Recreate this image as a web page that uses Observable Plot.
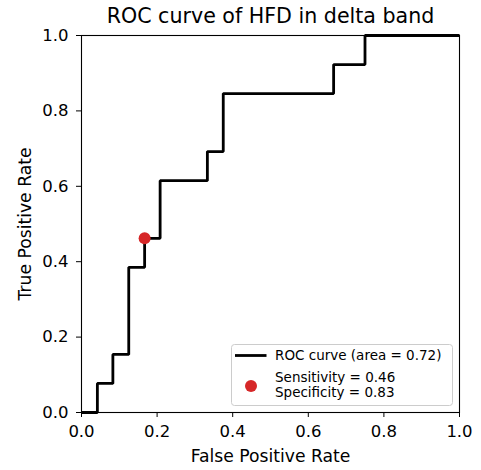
<!DOCTYPE html>
<html>
<head>
<meta charset="utf-8">
<script src="https://cdn.jsdelivr.net/npm/d3@7"></script>
<script src="https://cdn.jsdelivr.net/npm/@observablehq/plot@0.6"></script>
<style>
  html, body { margin: 0; padding: 0; background: white; }
  svg { display: block; }
</style>
</head>
<body>
<div id="chart"></div>
<script>
const fpr = [0, 0.042, 0.042, 0.083, 0.083, 0.125, 0.125, 0.167, 0.167, 0.208, 0.208, 0.333, 0.333, 0.375, 0.375, 0.667, 0.667, 0.75, 0.75, 1];
const tpr = [0, 0, 0.077, 0.077, 0.154, 0.154, 0.385, 0.385, 0.462, 0.462, 0.615, 0.615, 0.692, 0.692, 0.846, 0.846, 0.923, 0.923, 1, 1];
const opPoint = [{x: 0.167, y: 0.462}];
const ticks = [0, 0.2, 0.4, 0.6, 0.8, 1.0];
const title = "ROC curve of HFD in delta band";
const xLabel = "False Positive Rate";
const yLabel = "True Positive Rate";
const rocLabel = "ROC curve (area = 0.72)";
const pointLabels = ["Sensitivity = 0.46", "Specificity = 0.83"];

const roc = fpr.map((f, i) => ({x: f, y: tpr[i]}));
const font = "DejaVu Sans, sans-serif";

const W = 481, H = 470;
const mL = 81, mR = 22, mT = 35, mB = 58;

const chart = Plot.plot({
  width: W,
  height: H,
  marginLeft: mL,
  marginRight: mR,
  marginTop: mT,
  marginBottom: mB,
  style: {fontFamily: font, fontSize: "16.5px", color: "black", background: "white"},
  x: {domain: [0, 1]},
  y: {domain: [0, 1]},
  marks: [
    Plot.axisX({ticks, tickFormat: d3.format(".1f"), tickSize: 5, tickPadding: 8, label: null, fontSize: 16.5}),
    Plot.axisY({ticks, tickFormat: d3.format(".1f"), tickSize: 5, tickPadding: 8, label: null, fontSize: 16.5}),
    Plot.line(roc, {x: "x", y: "y", stroke: "black", strokeWidth: 2.8, strokeLinejoin: "miter", strokeLinecap: "butt"}),
    Plot.dot(opPoint, {x: "x", y: "y", r: 6, fill: "#d62728", stroke: null}),
    Plot.frame({stroke: "black", strokeWidth: 1.1}),
    Plot.text([title], {frameAnchor: "top", dy: -19, text: d => d, fontSize: 20.6, lineAnchor: "middle", textAnchor: "middle"}),
    Plot.text([xLabel], {frameAnchor: "bottom", dy: 44, text: d => d, fontSize: 17.2, lineAnchor: "middle", textAnchor: "middle"}),
    Plot.text([yLabel], {frameAnchor: "left", dx: -56.5, rotate: -90, text: d => d, fontSize: 17.2, lineAnchor: "middle", textAnchor: "middle"})
  ]
});

document.getElementById("chart").appendChild(chart);

// Legend (matplotlib-style box, lower right)
const svg = d3.select(chart);
const lg = svg.append("g").attr("font-family", font).attr("font-size", 13.5).attr("text-anchor", "start").attr("fill", "black");
const lx = 231.5, ly = 344.5, lw = 221, lh = 61;
lg.append("rect").attr("x", lx).attr("y", ly).attr("width", lw).attr("height", lh)
  .attr("rx", 3).attr("fill", "white").attr("fill-opacity", 0.8).attr("stroke", "#cccccc").attr("stroke-width", 1);
lg.append("line").attr("x1", lx + 3.5).attr("x2", lx + 35).attr("y1", ly + 11).attr("y2", ly + 11)
  .attr("stroke", "black").attr("stroke-width", 2.8);
lg.append("text").attr("x", lx + 43.5).attr("y", ly + 11).attr("dy", "0.35em").text(rocLabel);
lg.append("circle").attr("cx", lx + 19.5).attr("cy", ly + 41.5).attr("r", 6).attr("fill", "#d62728");
lg.append("text").attr("x", lx + 43.5).attr("y", ly + 32.5).attr("dy", "0.35em").text(pointLabels[0]);
lg.append("text").attr("x", lx + 43.5).attr("y", ly + 47.5).attr("dy", "0.35em").text(pointLabels[1]);
</script>
</body>
</html>
